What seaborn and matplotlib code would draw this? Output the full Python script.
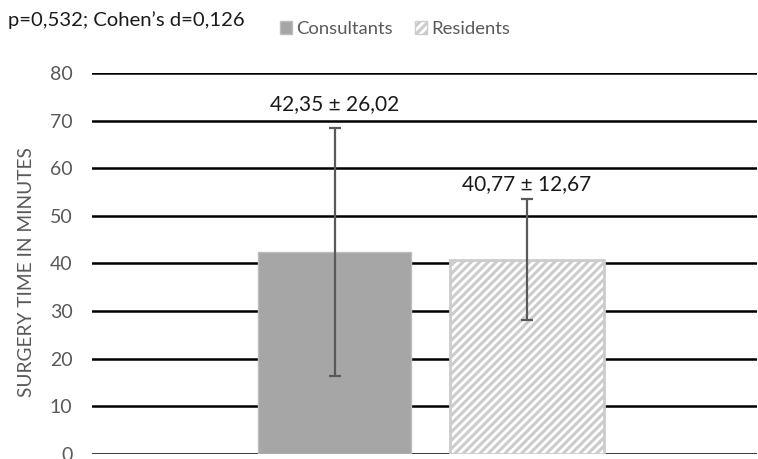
import matplotlib
matplotlib.use("Agg")
import matplotlib.pyplot as plt
from matplotlib.patches import Patch
import seaborn as sns
import pandas as pd

# Surgery time by surgeon group (mean ± SD, minutes)
groups = ["Consultants", "Residents"]
means = [42.35, 40.77]
sds = [26.02, 12.67]
value_labels = ["42,35 ± 26,02", "40,77 ± 12,67"]
y_ticks = [0, 10, 20, 30, 40, 50, 60, 70, 80]
stats_text = "p=0,532; Cohen’s d=0,126"
y_title = "SURGERY TIME IN MINUTES"

df = pd.DataFrame({"group": groups, "mean": means, "sd": sds})

sns.set_theme(style="white")
plt.rcParams["font.family"] = ["Lato", "DejaVu Sans"]
plt.rcParams["hatch.linewidth"] = 2.2

W, H = 758, 459
fig = plt.figure(figsize=(W / 100, H / 100), dpi=100)
ax = fig.add_axes([92 / W, 5 / H, (757 - 92) / W, (454 - 73) / H])

fill_colors = {"Consultants": "#a6a6a6", "Residents": "#ffffff"}
sns.barplot(data=df, x="group", y="mean", hue="group", palette=fill_colors,
            order=groups, width=0.795, legend=False, ax=ax, errorbar=None,
            linewidth=0, saturation=1)

bars = ax.patches
bars[0].set_edgecolor("#bdbdbd")
bars[0].set_linewidth(1.0)
bars[1].set_facecolor("white")
bars[1].set_edgecolor("#cccccc")
bars[1].set_hatch("////")
bars[1].set_linewidth(2.0)

# Error bars and value labels, placed at each bar's centre
label_pads = [3.9, 2.0]
for bar, m, s, txt, pad in zip(bars, means, sds, value_labels, label_pads):
    cx = bar.get_x() + bar.get_width() / 2
    ax.errorbar(cx, m, yerr=s, color="#595959", elinewidth=1.6,
                capsize=4, capthick=1.6, zorder=5)
    ax.text(cx, m + s + pad, txt, ha="center", va="baseline",
            fontsize=15, color="#1a1a1a")

ax.set_ylim(0, 80)
ax.set_xlim(-1.26, 2.195)
ax.set_yticks(y_ticks)
ax.yaxis.grid(True, color="black", linewidth=1.8)
ax.set_axisbelow(True)
ax.tick_params(axis="y", length=0, pad=14, labelsize=14, labelcolor="#595959")
ax.set_xticks([])
ax.set_xlabel("")
ax.set_ylabel(y_title, fontsize=13.8, color="#595959")
ax.yaxis.set_label_coords(-0.086, 0.478)
for sp in ax.spines.values():
    sp.set_visible(False)

fig.text(8 / W, 1 - 26 / H, stats_text, fontsize=14.6, color="#1a1a1a",
         ha="left", va="baseline")

handles = [
    Patch(facecolor="#a6a6a6", edgecolor="#bdbdbd", label="Consultants"),
    Patch(facecolor="white", edgecolor="#cccccc", hatch="////", label="Residents"),
]
fig.legend(handles=handles, loc="center", bbox_to_anchor=(395 / W, 1 - 29 / H),
           ncol=2, frameon=False, fontsize=13.3, labelcolor="#595959",
           handlelength=0.65, handleheight=0.65, handletextpad=0.25,
           columnspacing=1.2)

fig.savefig("out.png", dpi=100)
